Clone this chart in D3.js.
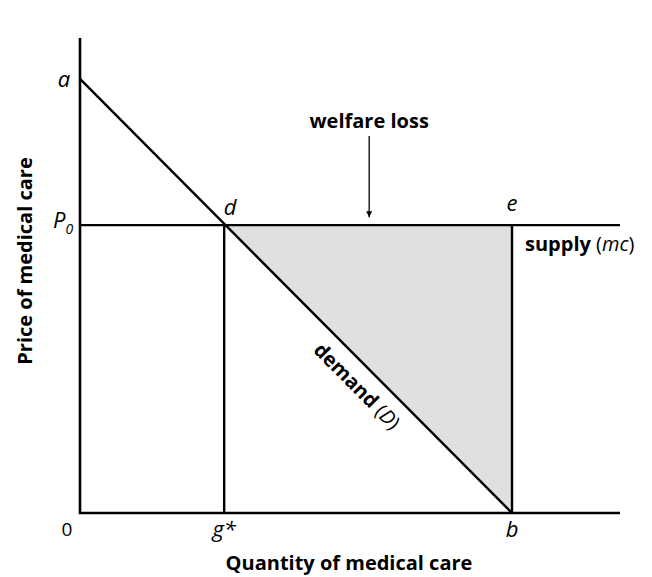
<!doctype html>
<html lang="en">
  <head>
    <meta charset="utf-8" />
    <title>Welfare loss</title>
    <style>
     body { margin: 0; background: #fff; font-family: "Open Sans", "Noto Sans", sans-serif; }
     .bold { font-weight: bold; font-size: 20px; }
     .pt { font-style: italic; font-size: 22px; }
    </style>
  </head>
  <body>
    <svg id="chart" width="652" height="577"></svg>
    <script src="https://cdn.jsdelivr.net/npm/d3@7"></script>
    <script>
    // values (quantity 0..100, price 0..100)
    var priceA = 91.4;      // demand intercept a
    var priceP0 = 60.6;     // supply price P0
    var qtyG = 26.7;        // g*
    var qtyB = 80;          // b
    var axisMax = [100, 100];

    var svg = d3.select("#chart");
    var x = d3.scaleLinear().domain([0, axisMax[0]]).range([80, 620]);
    var y = d3.scaleLinear().domain([0, axisMax[1]]).range([513, 38]);

    // shaded welfare loss triangle d-e-b
    var tri = [[qtyG, priceP0], [qtyB, priceP0], [qtyB, 0]];
    svg.append("path")
      .attr("d", d3.line().x(d => x(d[0])).y(d => y(d[1]))(tri) + "Z")
      .attr("fill", "#e0e0e0");

    function seg(p, q) {
      svg.append("line")
        .attr("x1", x(p[0])).attr("y1", y(p[1]))
        .attr("x2", x(q[0])).attr("y2", y(q[1]))
        .attr("stroke", "#000").attr("stroke-width", 2.4);
    }
    seg([qtyG, 0], [qtyG, priceP0]);
    seg([qtyB, 0], [qtyB, priceP0]);
    seg([0, priceP0], [axisMax[0], priceP0]);
    seg([0, priceA], [qtyB, 0]);
    // axes
    svg.append("path")
      .attr("d", "M" + x(0) + "," + y(axisMax[1]) + "V" + y(0) + "H" + x(axisMax[0]))
      .attr("fill", "none").attr("stroke", "#000").attr("stroke-width", 2.6);

    // arrow for welfare loss
    svg.append("defs").append("marker")
      .attr("id", "arr").attr("viewBox", "0 0 10 10")
      .attr("refX", 10).attr("refY", 5)
      .attr("markerWidth", 6).attr("markerHeight", 9)
      .attr("markerUnits", "userSpaceOnUse")
      .attr("orient", "auto")
      .append("path").attr("d", "M0,0L10,5L0,10Z").attr("fill", "#000");
    var ax = x((qtyG + qtyB) / 2 + 0.2);
    svg.append("line")
      .attr("x1", ax).attr("y1", 136).attr("x2", ax).attr("y2", y(priceP0) - 8)
      .attr("stroke", "#000").attr("stroke-width", 1.3)
      .attr("marker-end", "url(#arr)");
    svg.append("text").attr("class", "bold")
      .attr("x", ax).attr("y", 128).attr("text-anchor", "middle")
      .text("welfare loss");

    // point labels
    function lab(t, px, py, anchor) {
      return svg.append("text").attr("class", "pt")
        .attr("x", px).attr("y", py).attr("text-anchor", anchor || "middle").text(t);
    }
    lab("a", x(0) - 16, y(priceA) + 8);
    var p0 = lab("P", x(0) - 27, y(priceP0) + 3, "start");
    p0.append("tspan").attr("font-size", 14).attr("dy", 6).text("0");
    lab("d", x(qtyG) + 6, y(priceP0) - 10);
    lab("e", x(qtyB), y(priceP0) - 14);
    svg.append("text").attr("x", x(0) - 13).attr("y", y(0) + 23)
      .attr("text-anchor", "middle").attr("font-size", 19).text("0");
    lab("g*", x(qtyG), y(0) + 24);
    lab("b", x(qtyB), y(0) + 24);

    // curve labels: word bold, brackets regular, symbol italic
    function curveLabel(sel, word, sym) {
      sel.append("tspan").text(word + " ");
      sel.append("tspan").attr("font-weight", "normal").text("(");
      sel.append("tspan").attr("font-style", "italic").attr("font-weight", "normal").text(sym);
      sel.append("tspan").attr("font-weight", "normal").text(")");
    }
    var sup = svg.append("text").attr("class", "bold")
      .attr("x", x(qtyB) + 13).attr("y", y(priceP0) + 26);
    curveLabel(sup, "supply", "mc");

    var ang = Math.atan2(y(0) - y(priceA), x(qtyB) - x(0)) * 180 / Math.PI;
    var dm = svg.append("text").attr("class", "bold")
      .attr("text-anchor", "middle")
      .attr("transform", "translate(" + 352 + "," + 391 + ") rotate(" + ang + ")");
    curveLabel(dm, "demand", "D");

    // axis titles
    svg.append("text").attr("class", "bold").attr("text-anchor", "middle")
      .attr("x", 349).attr("y", 570).text("Quantity of medical care");
    svg.append("text").attr("class", "bold").attr("text-anchor", "middle")
      .attr("transform", "translate(32,261) rotate(-90)").text("Price of medical care");
    </script>
  </body>
</html>
